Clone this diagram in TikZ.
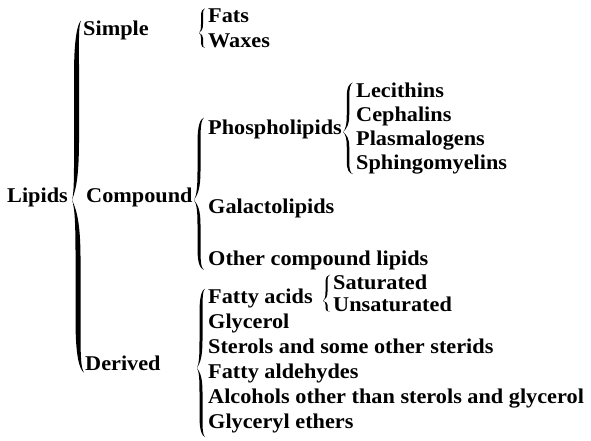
\documentclass[tikz,border=0pt]{standalone}
\usepackage{fontspec}
\setmainfont{Liberation Serif}[FakeStretch=1.06]
\usetikzlibrary{positioning,calc}

\tikzset{
  term/.style={anchor=mid west, inner sep=0pt, font=\fontsize{21}{24}\selectfont\bfseries},
}

% one arm of a swelled brace: end, tip, thickness
\newcommand{\bracearm}[3]{%
  \fill let \p1=#1, \p2=#2, \n1={\x1-\x2}, \n2={\y2-\y1}, \n3={#3/2} in
    (\x1,\y1)
      .. controls ({\x2+0.6*\n1},{\y1+0.02*\n2}) and ({\x2+0.5*\n1-\n3},{\y1+0.1*\n2}) .. ({\x2+0.5*\n1-\n3},{\y1+0.3*\n2})
      -- ({\x2+0.5*\n1-\n3},{\y1+0.65*\n2})
      .. controls ({\x2+0.5*\n1-\n3},{\y1+0.85*\n2}) and ({\x2+0.25*\n1},{\y1+0.95*\n2}) .. (\x2,\y2)
      .. controls ({\x2+0.25*\n1+\n3},{\y1+0.93*\n2}) and ({\x2+0.5*\n1+\n3},{\y1+0.85*\n2}) .. ({\x2+0.5*\n1+\n3},{\y1+0.65*\n2})
      -- ({\x2+0.5*\n1+\n3},{\y1+0.3*\n2})
      .. controls ({\x2+0.5*\n1+\n3},{\y1+0.12*\n2}) and ({\x2+0.7*\n1},{\y1+0.03*\n2}) .. cycle;
}
% whole brace: top end, bottom end, tip, thickness
\newcommand{\grpbrace}[4]{\bracearm{#1}{#3}{#4}\bracearm{#2}{#3}{#4}}

\begin{document}
\begin{tikzpicture}[x=1pt, y=-1pt]
  \useasboundingbox (0,0) rectangle (591,440);
  % Main classes
  \node[term] (lipids) at (7,200) {Lipids};
  \node[term] (simple) at (83,33) {Simple};
  \node[term] (compound) at (86,200) {Compound};
  \node[term] (derived) at (85,368) {Derived};
  % Simple lipids
  \node[term] (fats) at (208,20) {Fats};
  \node[term] (waxes) at ($(fats.mid west)+(0,25)$) {Waxes};
  % Compound lipids
  \node[term] (phospho) at (208,132) {Phospholipids};
  \node[term] (galacto) at (208,211) {Galactolipids};
  \node[term] (othercomp) at (208,263) {Other compound lipids};
  \node[term] (lecithins) at (356,95) {Lecithins};
  \node[term] (cephalins) at ($(lecithins.mid west)+(0,24)$) {Cephalins};
  \node[term] (plasmal) at ($(cephalins.mid west)+(0,24)$) {Plasmalogens};
  \node[term] (sphingo) at ($(plasmal.mid west)+(0,24)$) {Sphingomyelins};
  % Derived lipids
  \node[term] (fatty) at (208,301) {Fatty acids};
  \node[term] (glycerol) at ($(fatty.mid west)+(0,25)$) {Glycerol};
  \node[term] (sterols) at ($(glycerol.mid west)+(0,25)$) {Sterols and some other sterids};
  \node[term] (aldehydes) at ($(sterols.mid west)+(0,25)$) {Fatty aldehydes};
  \node[term] (alcohols) at ($(aldehydes.mid west)+(0,25)$) {Alcohols other than sterols and glycerol};
  \node[term] (ethers) at ($(alcohols.mid west)+(0,25)$) {Glyceryl ethers};
  \node[term] (saturated) at (333,287) {Saturated};
  \node[term] (unsaturated) at ($(saturated.mid west)+(0,22)$) {Unsaturated};
  % Braces
  \grpbrace{($(simple.north west)+(-2,0)$)}{($(derived.south west)+(-1,2)$)}{($(lipids.mid east)+(4,0)$)}{5}
  \grpbrace{($(fats.north west)+(-3,0)$)}{($(waxes.south west)+(-3,0)$)}{($(fats.west |- simple.mid)+(-9,0)$)}{2}
  \grpbrace{($(phospho.north west)+(-4,-2)$)}{($(othercomp.south west)+(-4,0)$)}{($(phospho.west |- compound.mid)+(-14,0)$)}{3}
  \grpbrace{($(lecithins.north west)+(-3,0)$)}{($(sphingo.south west)+(-3,0)$)}{($(lecithins.west |- phospho.mid)+(-13,0)$)}{2.5}
  \grpbrace{($(fatty.north west)+(-3,0)$)}{($(ethers.south west)+(-3,4)$)}{($(fatty.west |- derived.mid)+(-11,0)$)}{3}
  \grpbrace{($(saturated.north west)+(-3,0)$)}{($(unsaturated.south west)+(-3,0)$)}{($(saturated.west |- fatty.mid)+(-10,0)$)}{2}
\end{tikzpicture}
\end{document}
